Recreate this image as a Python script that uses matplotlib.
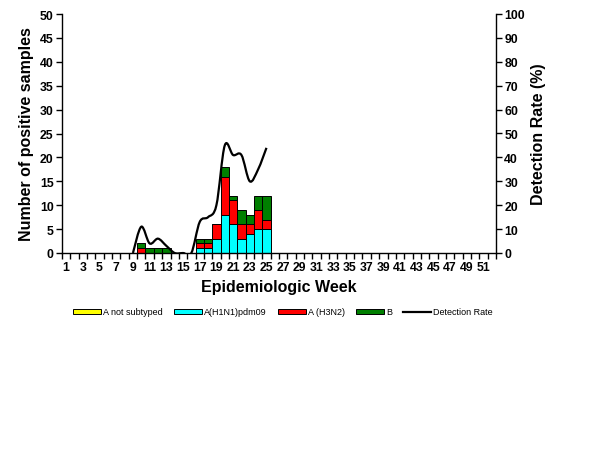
import numpy as np
import matplotlib
matplotlib.use("Agg")
import matplotlib.pyplot as plt
from matplotlib.path import Path
from matplotlib.patches import PathPatch, Patch
from matplotlib.lines import Line2D

plt.rcParams['font.family'] = ['Liberation Sans', 'DejaVu Sans']

weeks = list(range(1, 53))
bar_weeks = [10, 11, 12, 13, 17, 18, 19, 20, 21, 22, 23, 24, 25]
a_not_subtyped = [0, 0, 0, 0, 0, 0, 0, 0, 0, 0, 0, 0, 0]
a_h1n1 = [0, 0, 0, 0, 1, 1, 3, 8, 6, 3, 4, 5, 5]
a_h3n2 = [1, 0, 0, 0, 1, 1, 3, 8, 5, 3, 2, 4, 2]
b_vals = [1, 1, 1, 1, 1, 1, 0, 2, 1, 3, 2, 3, 5]

rate_weeks = [9, 10, 11, 12, 13, 14, 15, 16, 17, 18, 19, 20, 21, 22, 23, 24, 25]
rate_vals = [0, 11, 4, 6, 3, 0, 0, 0, 13, 15, 20, 45, 41, 41, 30, 35, 44]

series = [("A not subtyped", a_not_subtyped, "#FFFF00"),
          ("A(H1N1)pdm09", a_h1n1, "#00FFFF"),
          ("A (H3N2)", a_h3n2, "#FF0000"),
          ("B", b_vals, "#007F00")]

fig = plt.figure(figsize=(6.14, 4.6), dpi=100)
ax = fig.add_axes([62/614, 1-254/460, (496-62)/614, (254-15)/460])

bottom = np.zeros(len(bar_weeks))
for name, vals, col in series:
    v = np.array(vals, dtype=float)
    ax.bar(bar_weeks, v, bottom=bottom, width=1.0, color=col,
           edgecolor="black", linewidth=0.7)
    bottom += v

ax.set_xlim(0.5, 52.5)
ax.set_ylim(0, 50)
ax.set_yticks(range(0, 51, 5))
ax.set_xticks(weeks[::2])
ax.set_xticks(np.arange(0.5, 53, 1.0), minor=True)
ax.tick_params(axis='x', which='major', length=0, pad=6, labelsize=8.8)
ax.tick_params(axis='x', which='minor', length=4, direction='out', width=1)
ax.tick_params(axis='y', length=4, width=1, labelsize=8.8, pad=2)
for lab in ax.get_xticklabels() + ax.get_yticklabels():
    lab.set_fontweight('bold')
ax.spines['top'].set_visible(False)
ax.spines['right'].set_visible(False)
for s in ['left', 'bottom']:
    ax.spines[s].set_linewidth(1)
ax.set_ylabel("Number of positive samples", fontsize=11.5, fontweight='bold', labelpad=4)
ax.set_xlabel("Epidemiologic Week", fontsize=11.5, fontweight='bold', labelpad=4)

ax2 = ax.twinx()
ax2.set_ylim(0, 100)
ax2.set_yticks(range(0, 101, 10))
ax2.tick_params(axis='y', length=4, width=1, labelsize=8.8, pad=2)
for lab in ax2.get_yticklabels():
    lab.set_fontweight('bold')
ax2.spines['top'].set_visible(False)
ax2.spines['left'].set_visible(False)
ax2.spines['bottom'].set_visible(False)
ax2.spines['right'].set_linewidth(1)
ax2.set_ylabel("Detection Rate (%)", fontsize=11.5, fontweight='bold', labelpad=4)

# Excel-like smoothed line (Catmull-Rom bezier)
P = np.column_stack([rate_weeks, rate_vals]).astype(float)
n = len(P)
verts = [tuple(P[0])]
codes = [Path.MOVETO]
for i in range(n - 1):
    p0 = P[i - 1] if i > 0 else P[i]
    p1 = P[i]
    p2 = P[i + 1]
    p3 = P[i + 2] if i + 2 < n else P[i + 1]
    c1 = p1 + (p2 - p0) / 6.0
    c2 = p2 - (p3 - p1) / 6.0
    verts += [tuple(c1), tuple(c2), tuple(p2)]
    codes += [Path.CURVE4] * 3
ax2.add_patch(PathPatch(Path(verts, codes), facecolor='none', edgecolor='black', linewidth=1.6))

handles = [Patch(facecolor=c, edgecolor='black', linewidth=0.7) for _, _, c in series]
handles.append(Line2D([0], [0], color='black', linewidth=1.6))
labels = [s[0] for s in series] + ["Detection Rate"]
fig.legend(handles, labels, loc='center', bbox_to_anchor=(283/614, 1-313/460), ncol=5,
           frameon=False, fontsize=6.5, handlelength=3.1, handleheight=0.55,
           columnspacing=1.2, handletextpad=0.25)

fig.savefig("out.png", dpi=100)
